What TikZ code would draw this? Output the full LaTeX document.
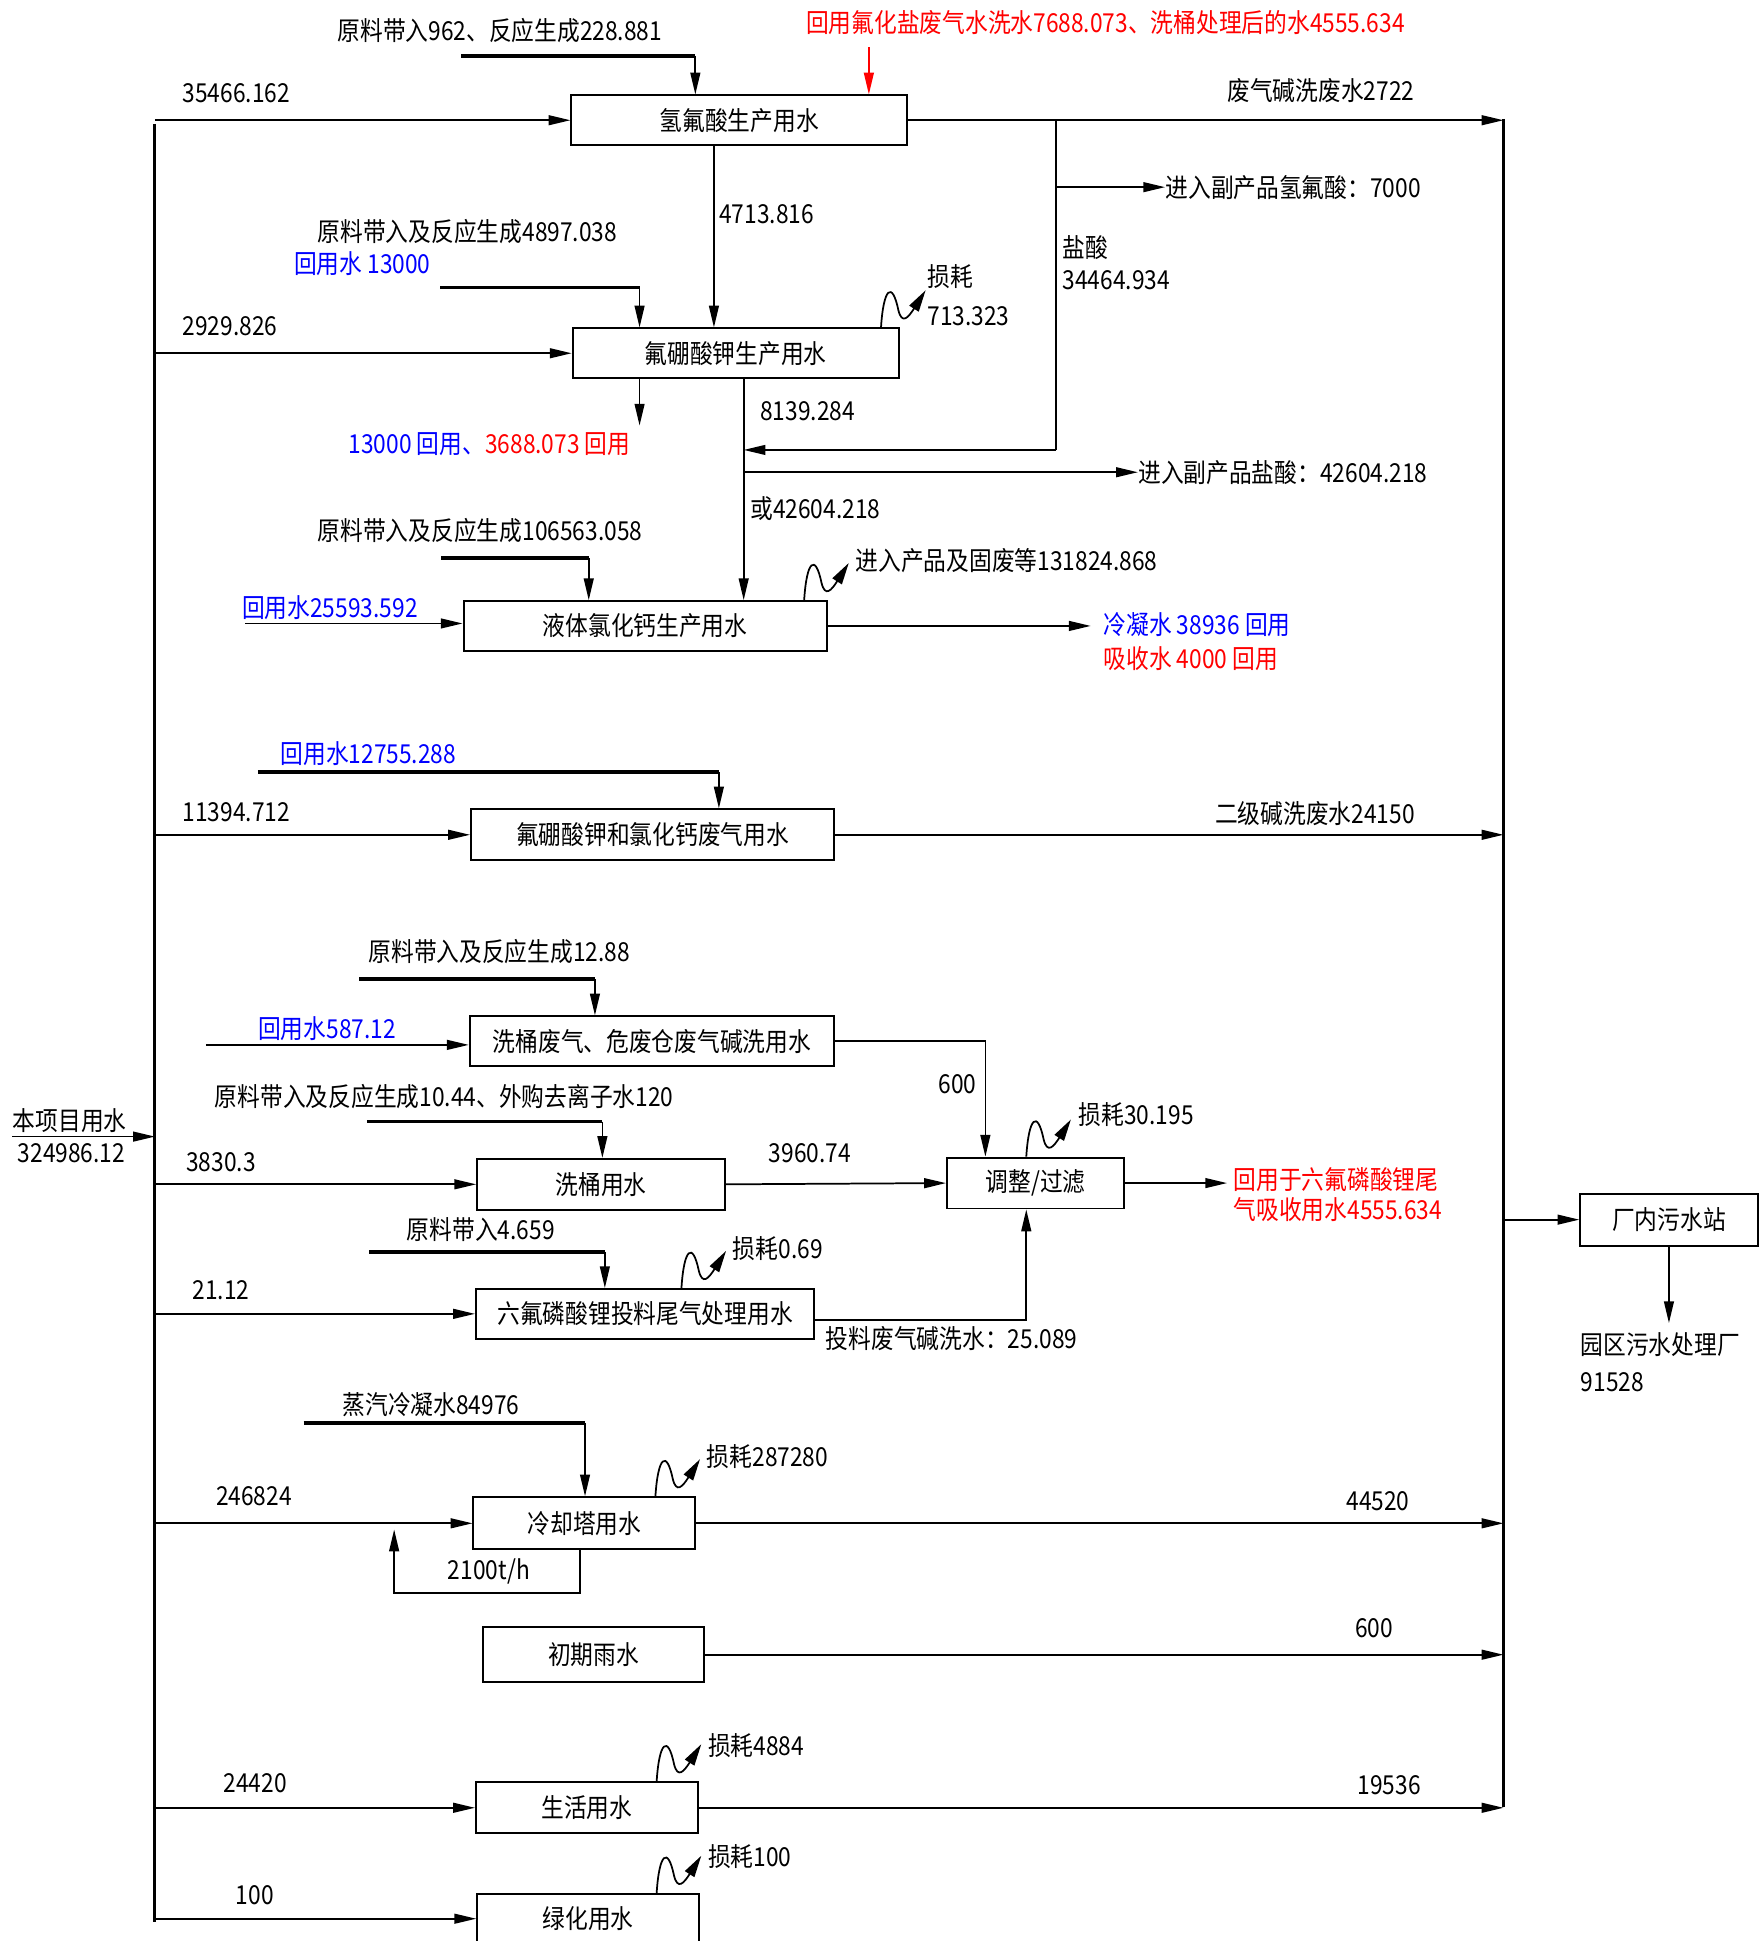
\documentclass[tikz,border=0pt]{standalone}
\usepackage{fontspec}
\setmainfont{Noto Sans CJK SC}[FakeStretch=0.87]
\usetikzlibrary{arrows.meta,positioning,calc}

\begin{document}
\begin{tikzpicture}[x=0.2mm, y=-0.2mm,
    font=\fontsize{12}{14}\selectfont,
    wb box/.style={draw, rectangle, line width=0.9pt, inner sep=0pt, minimum height=8mm, align=center},
    arr/.style={line width=0.8pt, -{Triangle[length=10pt,width=4.5pt]}},
    feed/.style={line width=1.6pt},
    bus/.style={line width=1.4pt},
    lbl/.style={anchor=west, inner sep=0pt, align=left},
    loss wave/.pic={\draw[line width=0.8pt, -{Triangle[length=10pt,width=5pt]}] (0,0) .. controls (2,-32) and (9,-38) .. (14,-14) .. controls (17,-2) and (22,-8) .. (36,-30);}]
    \useasboundingbox (0,0) rectangle (1420,1566);

    \node[wb box, minimum width=54.2mm] (hf) at (596.5,97) {氢氟酸生产用水};
    \node[wb box, minimum width=52.6mm] (kbf) at (593.5,285) {氟硼酸钾生产用水};
    \node[wb box, minimum width=58.6mm] (cacl) at (520.5,505) {液体氯化钙生产用水};
    \node[wb box, minimum width=58.6mm, minimum height=8.2mm] (gas) at (526.5,673.5) {氟硼酸钾和氯化钙废气用水};
    \node[wb box, minimum width=58.8mm] (wg) at (526,840) {洗桶废气、危废仓废气碱洗用水};
    \node[wb box, minimum width=40mm, minimum height=8.2mm] (tong) at (485,955.5) {洗桶用水};
    \node[wb box, minimum width=28.6mm, minimum height=8.2mm] (adj) at (835.5,954.5) {调整/过滤};
    \node[wb box, minimum width=54.6mm] (lipf) at (520.5,1060) {六氟磷酸锂投料尾气处理用水};
    \node[wb box, minimum width=35.8mm, minimum height=8.4mm] (cool) at (471.5,1229) {冷却塔用水};
    \node[wb box, minimum width=35.6mm, minimum height=8.8mm] (rain) at (479,1335) {初期雨水};
    \node[wb box, minimum width=35.8mm, minimum height=8.2mm] (life) at (473.5,1458.5) {生活用水};
    \node[wb box, minimum width=35.8mm] (green) at (474.5,1548) {绿化用水};
    \node[wb box, minimum width=28.6mm, minimum height=8.4mm] (plant) at (1346.5,984) {厂内污水站};

    \coordinate (busTop) at (125,100);
    \coordinate (busBot) at (125,1551);
    \coordinate (rbTop) at (1213,96);
    \coordinate (rbBot) at (1213,1458);
    \draw[bus] (busTop) -- (busBot);
    \draw[bus] (rbTop) -- (rbBot);

    \coordinate (srcIn) at (10,917);
    \draw[arr] (srcIn) -- (srcIn -| busTop);
    \node[lbl] (srcLbl) at (10,904) {本项目用水};
    \node[lbl] (srcVal) at (14,930) {324986.12};

    \draw[arr] (busTop |- hf.west) -- (hf.west);
    \node[lbl] (hfVal) at (147,75) {35466.162};
    \coordinate (hfFeed) at (372,45);
    \coordinate (hfFeedB) at (561,45);
    \draw[feed] (hfFeed) -- (hfFeedB);
    \draw[arr] (hfFeedB) -- (hfFeedB |- hf.north);
    \node[lbl] (hfFeedLbl) at (272,25) {原料带入962、反应生成228.881};
    \coordinate (redIn) at (701,38);
    \draw[arr, red] (redIn) -- (redIn |- hf.north);
    \node[lbl, red] (redLbl) at (650,18) {回用氟化盐废气水洗水7688.073、洗桶处理后的水4555.634};
    \draw[arr] (hf.east) -- (hf.east -| rbTop);
    \node[lbl] (hfOutLbl) at (990,73) {废气碱洗废水2722};
    \coordinate (hclTop) at (852,97);
    \coordinate (hclBot) at (852,363);
    \draw[line width=0.9pt] (hclTop) -- (hclBot);
    \node[lbl] (hfByLbl) at (940,151) {进入副产品氢氟酸：7000};
    \draw[arr] (hclTop |- hfByLbl.west) -- (hfByLbl.west);
    \node[lbl] (hclLbl) at (857,200) {盐酸};
    \node[lbl] (hclVal) at (857,226) {34464.934};
    \draw[arr] ([xshift=-4.1mm]hf.south) -- ([xshift=-4.1mm]hf.south |- kbf.north);
    \node[lbl] (hfDown) at (580,173) {4713.816};

    \draw[arr] (busTop |- kbf.west) -- (kbf.west);
    \node[lbl] (kbfVal) at (147,263) {2929.826};
    \coordinate (kFeed) at (355,232);
    \coordinate (kFeedB) at (516,232);
    \draw[feed] (kFeed) -- (kFeedB);
    \draw[arr] (kFeedB) -- (kFeedB |- kbf.north);
    \node[lbl] (kFeedLbl) at (256,187) {原料带入及反应生成4897.038};
    \node[lbl, blue] (kRecIn) at (237,213) {回用水 13000};
    \pic at ([xshift=-3mm]kbf.north east) {loss wave};
    \node[lbl] (kLoss) at (748,238) {损耗\\[4pt]713.323};
    \node[lbl] (kRecLbl) at (281,358) {\textcolor{blue}{13000 回用、}\textcolor{red}{3688.073 回用}};
    \draw[arr] (kFeedB |- kbf.south) -- ([yshift=1mm]kFeedB |- kRecLbl.north);
    \coordinate (kOut) at ([xshift=1.3mm]kbf.south);
    \draw[arr] (kOut) -- (kOut |- cacl.north);
    \node[lbl] (kOutVal) at (613,332) {8139.284};
    \draw[arr] (hclBot) -- (hclBot -| kOut);
    \node[lbl] (hclByLbl) at (918,381) {进入副产品盐酸：42604.218};
    \draw[arr] (kOut |- hclByLbl.west) -- (hclByLbl.west);
    \node[lbl] (orVal) at (605,410) {或42604.218};

    \coordinate (caFeed) at (356,450);
    \coordinate (caFeedB) at (475,450);
    \draw[feed] (caFeed) -- (caFeedB);
    \draw[arr] (caFeedB) -- (caFeedB |- cacl.north);
    \node[lbl] (caFeedLbl) at (256,428) {原料带入及反应生成106563.058};
    \coordinate (caRec) at (198,503);
    \draw[arr] (caRec) -- (caRec -| cacl.west);
    \node[lbl, blue] (caRecLbl) at (195,490) {回用水25593.592};
    \pic at ([xshift=-3.8mm]cacl.north east) {loss wave};
    \node[lbl] (caLoss) at (690,452) {进入产品及固废等131824.868};
    \node[lbl, blue] (caOutA) at (890,504) {冷凝水 38936 回用};
    \node[lbl, red] (caOutB) at (890,531) {吸收水 4000 回用};
    \draw[arr, shorten >=2mm] (cacl.east) -- (cacl.east -| caOutA.west);

    \draw[arr] (busTop |- gas.west) -- (gas.west);
    \node[lbl] (gasVal) at (147,655) {11394.712};
    \coordinate (gasFeed) at (208,623);
    \coordinate (gasFeedB) at (580,623);
    \draw[feed] (gasFeed) -- (gasFeedB);
    \draw[arr] (gasFeedB) -- (gasFeedB |- gas.north);
    \node[lbl, blue] (gasRecLbl) at (226,608) {回用水12755.288};
    \draw[arr] (gas.east) -- (gas.east -| rbTop);
    \node[lbl] (gasOutLbl) at (980,656) {二级碱洗废水24150};

    \coordinate (wgFeed) at (290,790);
    \coordinate (wgFeedB) at (480,790);
    \draw[feed] (wgFeed) -- (wgFeedB);
    \draw[arr] (wgFeedB) -- (wgFeedB |- wg.north);
    \node[lbl] (wgFeedLbl) at (297,768) {原料带入及反应生成12.88};
    \coordinate (wgRec) at (166,843);
    \draw[arr] (wgRec) -- (wgRec -| wg.west);
    \node[lbl, blue] (wgRecLbl) at (208,830) {回用水587.12};
    \draw[arr] (wg.east) -| ([xshift=-8.1mm]adj.north);
    \node[lbl] (wgOutVal) at (757,875) {600};

    \draw[arr] (busTop |- tong.west) -- (tong.west);
    \node[lbl] (tongVal) at (150,938) {3830.3};
    \coordinate (tongFeed) at (296,905);
    \coordinate (tongFeedB) at (486,905);
    \draw[feed] (tongFeed) -- (tongFeedB);
    \draw[arr] (tongFeedB) -- (tongFeedB |- tong.north);
    \node[lbl] (tongFeedLbl) at (173,885) {原料带入及反应生成10.44、外购去离子水120};
    \draw[arr] (tong.east) -- (adj.west);
    \node[lbl] (tongOutVal) at (620,930) {3960.74};

    \pic at ([xshift=-1.5mm]adj.north) {loss wave};
    \node[lbl] (adjLoss) at (870,899) {损耗30.195};
    \node[lbl, red] (adjOut) at (995,964) {回用于六氟磷酸锂尾\\气吸收用水4555.634};
    \draw[arr, shorten >=1mm] (adj.east) -- (adj.east -| adjOut.west);

    \draw[arr] (busTop |- lipf.west) -- (lipf.west);
    \node[lbl] (lipfVal) at (155,1041) {21.12};
    \coordinate (lipfFeed) at (298,1010);
    \coordinate (lipfFeedB) at (488,1010);
    \draw[feed] (lipfFeed) -- (lipfFeedB);
    \draw[arr] (lipfFeedB) -- (lipfFeedB |- lipf.north);
    \node[lbl] (lipfFeedLbl) at (328,992) {原料带入4.659};
    \pic at ([xshift=-21.6mm]lipf.north east) {loss wave};
    \node[lbl] (lipfLoss) at (591,1007) {损耗0.69};
    \draw[arr] ([yshift=-1mm]lipf.east) -| ([xshift=-1.5mm]adj.south);
    \node[lbl] (lipfOutLbl) at (666,1080) {投料废气碱洗水：25.089};

    \draw[arr] (busTop |- cool.west) -- (cool.west);
    \node[lbl] (coolVal) at (174,1207) {246824};
    \coordinate (coolFeed) at (245,1148);
    \coordinate (coolFeedB) at (472,1148);
    \draw[feed] (coolFeed) -- (coolFeedB);
    \draw[arr] (coolFeedB) -- (coolFeedB |- cool.north);
    \node[lbl] (coolFeedLbl) at (276,1133) {蒸汽冷凝水84976};
    \pic at ([xshift=-6.6mm]cool.north east) {loss wave};
    \node[lbl] (coolLoss) at (570,1175) {损耗287280};
    \draw[arr] (cool.east) -- (cool.east -| rbTop);
    \node[lbl] (coolOutVal) at (1086,1211) {44520};
    \coordinate (coolLoop) at (318,1285);
    \coordinate (coolLoopEnd) at (318,1234);
    \draw[arr] ([xshift=-0.7mm]cool.south) |- (coolLoop) -- (coolLoopEnd);
    \node[lbl] (coolLoopVal) at (361,1268) {2100t/h};

    \draw[arr] (rain.east) -- (rain.east -| rbTop);
    \node[lbl] (rainOutVal) at (1093,1314) {600};

    \draw[arr] (busTop |- life.west) -- (life.west);
    \node[lbl] (lifeVal) at (180,1439) {24420};
    \pic at ([xshift=-6.8mm]life.north east) {loss wave};
    \node[lbl] (lifeLoss) at (571,1408) {损耗4884};
    \draw[arr] (life.east) -- (life.east -| rbTop);
    \node[lbl] (lifeOutVal) at (1095,1440) {19536};

    \draw[arr] (busTop |- green.west) -- (green.west);
    \node[lbl] (greenVal) at (190,1529) {100};
    \pic at ([xshift=-7mm]green.north east) {loss wave};
    \node[lbl] (greenLoss) at (571,1498) {损耗100};

    \draw[arr] (rbTop |- plant.west) -- (plant.west);
    \node[lbl] (parkLbl) at (1275,1085) {园区污水处理厂};
    \node[lbl] (parkVal) at (1275,1115) {91528};
    \draw[arr, shorten >=1.5mm] (plant.south) -- (plant.south |- parkLbl.north);
\end{tikzpicture}
\end{document}
